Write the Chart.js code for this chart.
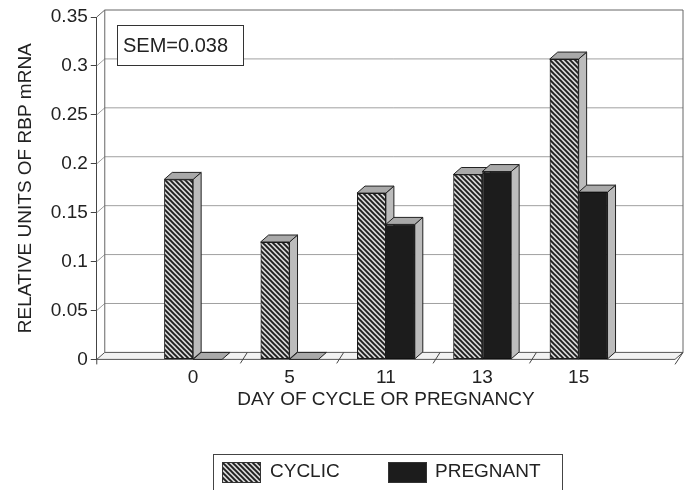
<!DOCTYPE html>
<html>
<head>
<meta charset="utf-8">
<script src="https://cdn.jsdelivr.net/npm/chart.js@4.4.0/dist/chart.umd.min.js"></script>
<style>
  html, body { margin: 0; background: #fff; }
  #wrap { width: 691px; height: 490px; }
</style>
</head>
<body>
<div id="wrap"><canvas id="chart"></canvas></div>
<script>
// data
const days = ['', '0', '5', '11', '13', '15', ''];
const cyclic = [null, 0.184, 0.120, 0.170, 0.189, 0.307, null];
const pregnant = [null, 0, 0, 0.138, 0.192, 0.171, null];
const yTicks = [0, 0.05, 0.1, 0.15, 0.2, 0.25, 0.3, 0.35];
const semLabel = 'SEM=0.038';

const FONT = "'Liberation Sans', Arial, Helvetica, sans-serif";
Chart.defaults.font.family = FONT;
Chart.defaults.font.size = 19;
Chart.defaults.color = '#222';

// depth of the 3d box
const DX = 8, DY = -7;

function makeHatch() {
    const c = document.createElement('canvas');
    c.width = 5; c.height = 5;
    const g = c.getContext('2d');
    g.fillStyle = '#d6d6d6';
    g.fillRect(0, 0, 5, 5);
    g.strokeStyle = '#1e1e1e';
    g.lineWidth = 1.9;
    g.beginPath();
    g.moveTo(-1, -1); g.lineTo(6, 6);
    g.moveTo(-1, 4); g.lineTo(1, 6);
    g.moveTo(4, -1); g.lineTo(6, 1);
    g.stroke();
    return g.createPattern(c, 'repeat');
}
const hatch = makeHatch();

function poly(ctx, pts, fill, stroke) {
    ctx.beginPath();
    ctx.moveTo(pts[0][0], pts[0][1]);
    for (let i = 1; i < pts.length; i++) ctx.lineTo(pts[i][0], pts[i][1]);
    ctx.closePath();
    if (fill) { ctx.fillStyle = fill; ctx.fill(); }
    if (stroke) { ctx.strokeStyle = stroke; ctx.stroke(); }
}

const box3d = {
    id: 'box3d',
    beforeDatasetsDraw(chart) {
        const ctx = chart.ctx;
        const { left: L, right: R, bottom: B } = chart.chartArea;
        const ys = chart.scales.y;
        const xs = chart.scales.x;
        const T = ys.getPixelForValue(yTicks[yTicks.length - 1]);
        ctx.save();
        ctx.lineWidth = 1;
        // back wall grid lines with their slanted feet
        yTicks.forEach((v, i) => {
            if (v === 0) return;
            const y = ys.getPixelForValue(v);
            ctx.strokeStyle = i === yTicks.length - 1 ? '#666' : '#a0a0a0';
            ctx.beginPath();
            ctx.moveTo(L, y);
            ctx.lineTo(L + DX, y + DY);
            ctx.lineTo(R + DX, y + DY);
            ctx.stroke();
        });
        ctx.strokeStyle = '#666';
        ctx.beginPath();
        ctx.moveTo(L + DX, T + DY); ctx.lineTo(L + DX, B + DY);
        ctx.moveTo(R + DX, T + DY); ctx.lineTo(R + DX, B + DY);
        ctx.stroke();
        // floor
        poly(ctx, [[L, B], [R, B], [R + DX, B + DY], [L + DX, B + DY]], '#f2f2f2', '#555');
        // floor ticks between categories
        ctx.strokeStyle = '#444';
        for (let i = 1; i < days.length - 2; i++) {
            const x = (xs.getPixelForValue(i) + xs.getPixelForValue(i + 1)) / 2;
            ctx.beginPath();
            ctx.moveTo(x - 1, B + 4);
            ctx.lineTo(x + DX - 2, B + DY);
            ctx.stroke();
        }
        ctx.beginPath();
        ctx.moveTo(R, B + 5);
        ctx.lineTo(R + DX, B + DY);
        ctx.moveTo(L, B);
        ctx.lineTo(L, B + 5);
        ctx.stroke();
        ctx.restore();
    },
    afterDatasetsDraw(chart) {
        const ctx = chart.ctx;
        ctx.save();
        ctx.lineWidth = 1;
        chart.data.datasets.forEach((ds, di) => {
            const meta = chart.getDatasetMeta(di);
            meta.data.forEach((el, j) => {
                if (ds.data[j] === null || ds.data[j] === undefined) return;
                const { x, y, base, width } = el.getProps(['x', 'y', 'base', 'width'], true);
                const l = x - width / 2, r = x + width / 2;
                if (base - y > 0.5) {
                    poly(ctx, [[r, y], [r + DX, y + DY], [r + DX, base + DY], [r, base]], '#bcbcbc', '#222');
                }
                poly(ctx, [[l, y], [l + DX, y + DY], [r + DX, y + DY], [r, y]], '#a9a9a9', '#222');
                if (base - y > 0.5) el.draw(ctx);
            });
        });
        ctx.restore();
    },
    afterDraw(chart) {
        const ctx = chart.ctx;
        ctx.save();
        // SEM note
        ctx.lineWidth = 1;
        ctx.fillStyle = '#fff';
        ctx.fillRect(117.5, 25.5, 126, 40);
        ctx.strokeStyle = '#333';
        ctx.strokeRect(117.5, 25.5, 126, 40);
        ctx.fillStyle = '#222';
        ctx.font = '20px ' + FONT;
        ctx.textBaseline = 'middle';
        ctx.textAlign = 'left';
        ctx.fillText(semLabel, 123, 46);
        // legend
        ctx.strokeStyle = '#444';
        ctx.strokeRect(213.5, 454.5, 349, 60);
        const items = [[222, 270], [388, 435]];
        chart.data.datasets.forEach((ds, i) => {
            const [sx, tx] = items[i];
            ctx.fillStyle = ds.backgroundColor;
            ctx.fillRect(sx, 462, 38, 20);
            ctx.strokeStyle = '#333';
            ctx.strokeRect(sx + 0.5, 462.5, 38, 20);
            ctx.fillStyle = '#222';
            ctx.font = '19px ' + FONT;
            ctx.fillText(ds.label, tx, 472);
        });
        ctx.restore();
    }
};

new Chart(document.getElementById('chart'), {
    type: 'bar',
    data: {
        labels: days,
        datasets: [
            {
                label: 'CYCLIC',
                data: cyclic,
                backgroundColor: hatch,
                borderColor: '#1a1a1a',
                borderWidth: 1,
                borderSkipped: false
            },
            {
                label: 'PREGNANT',
                data: pregnant,
                backgroundColor: '#1c1c1c',
                borderColor: '#111',
                borderWidth: 1,
                borderSkipped: false
            }
        ]
    },
    options: {
        responsive: true,
        maintainAspectRatio: false,
        animation: false,
        events: [],
        layout: { padding: { left: 12, top: 17, right: 16, bottom: 79 } },
        datasets: {
            bar: { categoryPercentage: 0.6, barPercentage: 1 }
        },
        plugins: {
            legend: { display: false },
            tooltip: { enabled: false }
        },
        scales: {
            x: {
                offset: false,
                grid: { display: false, drawTicks: false },
                border: { display: false },
                ticks: { padding: 7, maxRotation: 0, autoSkip: false, color: '#222' },
                title: {
                    display: true,
                    text: 'DAY OF CYCLE OR PREGNANCY',
                    color: '#222',
                    padding: { top: -8, bottom: 0 }
                }
            },
            y: {
                min: 0,
                max: 0.35,
                afterBuildTicks: s => { s.ticks = yTicks.map(v => ({ value: v })); },
                grid: { drawOnChartArea: false, drawTicks: true, tickLength: 6, color: '#444' },
                border: { display: true, color: '#444' },
                ticks: { padding: 3, color: '#222', callback: v => String(v) },
                title: {
                    display: true,
                    text: 'RELATIVE UNITS OF RBP mRNA',
                    color: '#222',
                    padding: { top: 2, bottom: 11 }
                }
            }
        }
    },
    plugins: [box3d]
});
</script>
</body>
</html>
